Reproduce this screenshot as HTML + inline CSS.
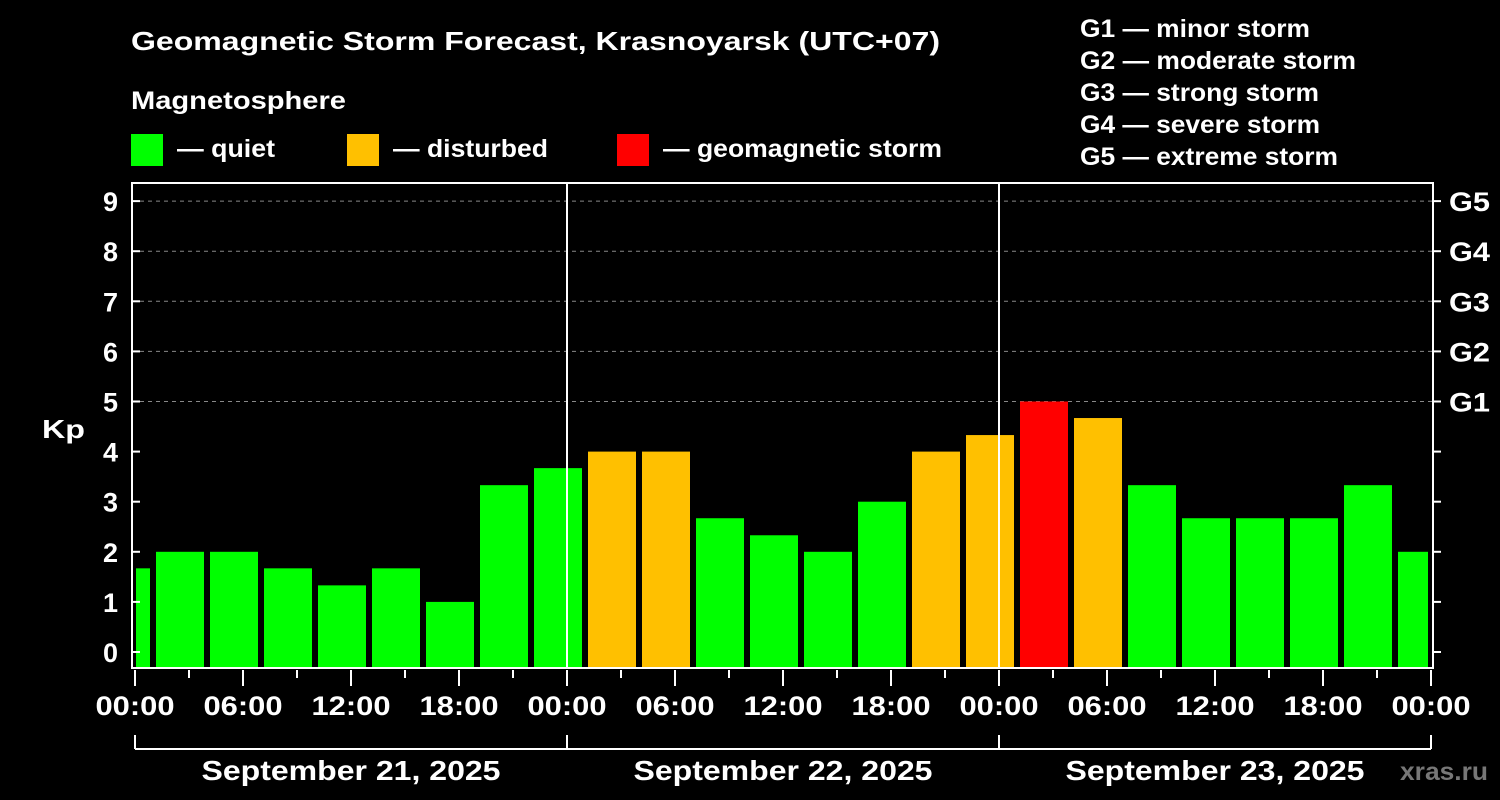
<!DOCTYPE html>
<html><head><meta charset="utf-8"><style>
html,body{margin:0;padding:0;background:#000;overflow:hidden;width:1500px;height:800px;}
svg{display:block;}
svg text{font-family:"Liberation Sans",sans-serif;font-weight:bold;fill:#fff;}
</style></head><body>
<svg id="chart" width="1500" height="800" viewBox="0 0 1500 800">
<rect width="1500" height="800" fill="#000"/>
<text x="131" y="50" font-size="26" textLength="809" lengthAdjust="spacingAndGlyphs">Geomagnetic Storm Forecast, Krasnoyarsk (UTC+07)</text>
<text x="131" y="109" font-size="25" textLength="215" lengthAdjust="spacingAndGlyphs">Magnetosphere</text>
<g><rect x="131" y="134" width="32" height="32" fill="#00ff00"/><text x="177" y="157" font-size="25" textLength="98" lengthAdjust="spacingAndGlyphs">— quiet</text></g>
<g><rect x="347" y="134" width="32" height="32" fill="#ffc000"/><text x="393" y="157" font-size="25" textLength="155" lengthAdjust="spacingAndGlyphs">— disturbed</text></g>
<g><rect x="617" y="134" width="32" height="32" fill="#ff0000"/><text x="663" y="157" font-size="25" textLength="279" lengthAdjust="spacingAndGlyphs">— geomagnetic storm</text></g>
<g font-size="25">
<text x="1080" y="37" textLength="230" lengthAdjust="spacingAndGlyphs">G1 — minor storm</text>
<text x="1080" y="69" textLength="276" lengthAdjust="spacingAndGlyphs">G2 — moderate storm</text>
<text x="1080" y="101" textLength="239" lengthAdjust="spacingAndGlyphs">G3 — strong storm</text>
<text x="1080" y="133" textLength="240" lengthAdjust="spacingAndGlyphs">G4 — severe storm</text>
<text x="1080" y="165" textLength="258" lengthAdjust="spacingAndGlyphs">G5 — extreme storm</text>
</g>
<text x="42" y="438" font-size="26" textLength="43" lengthAdjust="spacingAndGlyphs">Kp</text>
<text x="1400" y="780" font-size="25" textLength="88" lengthAdjust="spacingAndGlyphs" style="fill:#777">xras.ru</text>
<g id="plot"></g>
</svg>
<script>
const kpValues = [1.67, 2, 2, 1.67, 1.33, 1.67, 1, 3.33, 3.67, 4, 4, 2.67, 2.33, 2, 3, 4, 4.33, 5, 4.67, 3.33, 2.67, 2.67, 2.67, 3.33, 2];
const barHours = [-1.5, 1.5, 4.5, 7.5, 10.5, 13.5, 16.5, 19.5, 22.5, 25.5, 28.5, 31.5, 34.5, 37.5, 40.5, 43.5, 46.5, 49.5, 52.5, 55.5, 58.5, 61.5, 64.5, 67.5, 70.5];
const yTicks = [0,1,2,3,4,5,6,7,8,9];
const gLabels = ["G1","G2","G3","G4","G5"];
const xTickLabels = ["00:00","06:00","12:00","18:00","00:00","06:00","12:00","18:00","00:00","06:00","12:00","18:00","00:00"];
const dayLabels = ["September 21, 2025","September 22, 2025","September 23, 2025"];

(function(){
const NS="http://www.w3.org/2000/svg";
const g=document.getElementById('plot');
const x0=135, pxH=18, pLeft=132, pRight=1433, pTop=183, pBottom=668;
const xs=h=>x0+h*pxH;
const ys=v=>652-v*50.1;
function el(t,a,parent){const e=document.createElementNS(NS,t);for(const k in a)e.setAttribute(k,a[k]);(parent||g).appendChild(e);return e;}
[5,6,7,8,9].forEach(v=>{const l=el('line',{x1:pLeft,x2:pRight,y1:ys(v),y2:ys(v),stroke:'#888','stroke-dasharray':'4,4','stroke-width':1});

});
const defs=el('defs',{});
const clip=el('clipPath',{id:'pc'},defs);
el('rect',{x:136,y:pTop,width:1428-136,height:pBottom-pTop},clip);
const bg=el('g',{'clip-path':'url(#pc)'});
kpValues.forEach((v,i)=>{
 const c=v>=5?'#ff0000':(v>=4?'#ffc000':'#00ff00');
 const cx=xs(barHours[i]+1);
 const r=el('rect',{x:cx-24,width:48,y:ys(v),height:pBottom-ys(v),fill:c},bg);
 
 
});
[24,48].forEach(h=>{const l=el('line',{x1:xs(h),x2:xs(h),y1:pTop,y2:pBottom,stroke:'#fff','stroke-width':2});

});
const f=el('rect',{x:pLeft,y:pTop,width:pRight-pLeft,height:pBottom-pTop,fill:'none',stroke:'#fff','stroke-width':2});


yTicks.forEach(v=>{
 el('line',{x1:pLeft,x2:pLeft+8,y1:ys(v),y2:ys(v),stroke:'#fff','stroke-width':2});
 el('line',{x1:pRight,x2:pRight+8,y1:ys(v),y2:ys(v),stroke:'#fff','stroke-width':2});
 const t=el('text',{x:118,y:ys(v)+10,'font-size':27,'text-anchor':'end'});t.textContent=v;
 
 
 if(v>=5){const gt=el('text',{x:1449,y:ys(v)+10,'font-size':27,textLength:41,lengthAdjust:'spacingAndGlyphs'});gt.textContent=gLabels[v-5];
 
 }
});
for(let h=0;h<=72;h+=3){const major=h%6===0;el('line',{x1:xs(h),x2:xs(h),y1:pBottom+2,y2:pBottom+(major?18:10),stroke:'#fff','stroke-width':2});}
xTickLabels.forEach((s,i)=>{const t=el('text',{x:xs(i*6),y:715,'font-size':27,'text-anchor':'middle',textLength:79,lengthAdjust:'spacingAndGlyphs'});t.textContent=s;
 
 });
el('line',{x1:xs(0),x2:xs(72),y1:749,y2:749,stroke:'#fff','stroke-width':2});
[0,24,48,72].forEach(h=>el('line',{x1:xs(h),x2:xs(h),y1:735,y2:749,stroke:'#fff','stroke-width':2}));
dayLabels.forEach((s,i)=>{const t=el('text',{x:xs(i*24+12),y:780,'font-size':28,'text-anchor':'middle',textLength:299,lengthAdjust:'spacingAndGlyphs'});t.textContent=s;
 
 });
})();
</script>
</body></html>
